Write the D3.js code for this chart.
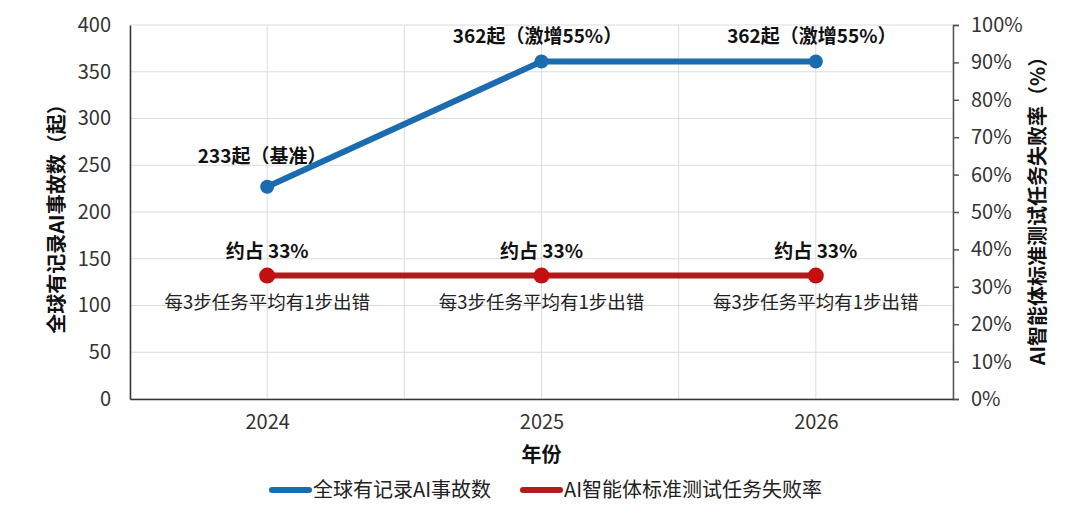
<!DOCTYPE html>
<html>
<head>
<meta charset="utf-8">
<script src="https://cdn.jsdelivr.net/npm/d3@7"></script>
<style>
  body { margin: 0; background: #fff; }
  svg text { font-family: "Noto Sans CJK SC", "Noto Sans", sans-serif; fill: #222; }
</style>
</head>
<body>
<svg id="chart" width="1080" height="524"></svg>
<script>
// data
let years = [2024, 2025, 2026];
let incidents = [227, 361, 361];
let incidentLabels = ["233起（基准）", "362起（激增55%）", "362起（激增55%）"];
let failRate = [33, 33, 33];
let failLabels = ["约占 33%", "约占 33%", "约占 33%"];
let failNotes = ["每3步任务平均有1步出错", "每3步任务平均有1步出错", "每3步任务平均有1步出错"];
let leftTicks = [0, 50, 100, 150, 200, 250, 300, 350, 400];
let rightTicks = [0, 10, 20, 30, 40, 50, 60, 70, 80, 90, 100];
let gridYears = [2023.5, 2024, 2024.5, 2025, 2025.5, 2026, 2026.5];

let blue = '#1b6bb0';
let red = '#b01b1b';

let svg = d3.select('#chart');

let plotL = 130, plotR = 953, plotT = 25, plotB = 399;

let x = d3.scaleLinear().domain([2023.5, 2026.5]).range([plotL, plotR]);
let yL = d3.scaleLinear().domain([0, 400]).range([plotB, plotT]);
let yR = d3.scaleLinear().domain([0, 100]).range([plotB, plotT]);

// grid
svg.append('g')
  .selectAll('line.hgrid')
  .data(leftTicks)
  .enter()
  .append('line')
  .attr('class', 'hgrid')
  .attr('x1', plotL).attr('x2', plotR)
  .attr('y1', d => yL(d)).attr('y2', d => yL(d))
  .style('stroke', '#dcdcdc')
  .style('stroke-width', '1px');

svg.append('g')
  .selectAll('line.vgrid')
  .data(gridYears)
  .enter()
  .append('line')
  .attr('class', 'vgrid')
  .attr('x1', d => x(d)).attr('x2', d => x(d))
  .attr('y1', plotT).attr('y2', plotB)
  .style('stroke', '#dcdcdc')
  .style('stroke-width', '1px');

// left axis
let leftAxis = svg.append('g')
  .attr('transform', `translate(${plotL},0)`)
  .call(d3.axisLeft(yL).tickValues(leftTicks).tickSize(0).tickPadding(19));
leftAxis.select('.domain').style('stroke', '#333').style('stroke-width', '1.5px');
leftAxis.selectAll('text').style('font-size', '20px').style('fill', '#333');

// right axis
let rightAxis = svg.append('g')
  .attr('transform', `translate(${plotR},0)`)
  .call(d3.axisRight(yR).tickValues(rightTicks).tickSize(6).tickSizeOuter(6).tickPadding(12).tickFormat(d => d + '%'));
rightAxis.selectAll('.domain').style('stroke', '#555').style('stroke-width', '1.5px');
rightAxis.selectAll('line').style('stroke', '#555').style('stroke-width', '1.5px');
rightAxis.selectAll('text').style('font-size', '20px').style('fill', '#333');

// bottom axis
let bottomAxis = svg.append('g')
  .attr('transform', `translate(0,${plotB})`)
  .call(d3.axisBottom(x).tickValues(years).tickSize(0).tickPadding(16).tickFormat(d3.format('d')));
bottomAxis.select('.domain').style('stroke', '#333').style('stroke-width', '1.5px');
bottomAxis.selectAll('text').style('font-size', '20px').style('fill', '#333');

// axis titles
svg.append('text')
  .attr('transform', 'translate(64,214) rotate(-90)')
  .attr('text-anchor', 'middle')
  .style('font-size', '20px')
  .style('font-weight', 'bold')
  .style('fill', '#111')
  .text('全球有记录AI事故数（起）');

svg.append('text')
  .attr('transform', 'translate(1045,206) rotate(-90)')
  .attr('text-anchor', 'middle')
  .style('font-size', '20px')
  .style('font-weight', 'bold')
  .style('fill', '#111')
  .text('AI智能体标准测试任务失败率（%）');

svg.append('text')
  .attr('x', x(2025)).attr('y', 462)
  .attr('text-anchor', 'middle')
  .style('font-size', '20px')
  .style('font-weight', 'bold')
  .style('fill', '#111')
  .text('年份');

// red series
let redLine = d3.line().x((d, i) => x(years[i])).y(d => yR(d));
svg.append('path')
  .datum(failRate)
  .attr('d', redLine)
  .style('fill', 'none')
  .style('stroke', red)
  .style('stroke-width', '6px');

svg.selectAll('circle.red')
  .data(failRate)
  .enter()
  .append('circle')
  .attr('class', 'red')
  .attr('cx', (d, i) => x(years[i]))
  .attr('cy', d => yR(d))
  .attr('r', 8)
  .style('fill', '#c40f0f');

svg.selectAll('text.failLab')
  .data(failRate)
  .enter()
  .append('text')
  .attr('class', 'failLab')
  .attr('x', (d, i) => x(years[i]))
  .attr('y', d => yR(d) - 18)
  .attr('text-anchor', 'middle')
  .style('font-size', '19px')
  .style('font-weight', 'bold')
  .style('fill', '#111')
  .text((d, i) => failLabels[i]);

svg.selectAll('text.failNote')
  .data(failRate)
  .enter()
  .append('text')
  .attr('class', 'failNote')
  .attr('x', (d, i) => x(years[i]))
  .attr('y', d => yR(d) + 33)
  .attr('text-anchor', 'middle')
  .style('font-size', '18.5px')
  .style('fill', '#222')
  .text((d, i) => failNotes[i]);

// blue series
let blueLine = d3.line().x((d, i) => x(years[i])).y(d => yL(d));
svg.append('path')
  .datum(incidents)
  .attr('d', blueLine)
  .style('fill', 'none')
  .style('stroke', blue)
  .style('stroke-width', '6px');

svg.selectAll('circle.blue')
  .data(incidents)
  .enter()
  .append('circle')
  .attr('class', 'blue')
  .attr('cx', (d, i) => x(years[i]))
  .attr('cy', d => yL(d))
  .attr('r', 7)
  .style('fill', blue);

svg.selectAll('text.incLab')
  .data(incidents)
  .enter()
  .append('text')
  .attr('class', 'incLab')
  .attr('x', (d, i) => x(years[i]) - (i == 0 ? 5 : 4))
  .attr('y', (d, i) => yL(d) - (i == 0 ? 24 : 18))
  .attr('text-anchor', 'middle')
  .style('font-size', '19px')
  .style('font-weight', 'bold')
  .style('fill', '#111')
  .text((d, i) => incidentLabels[i]);

// legend
let legendItems = [
  {name: '全球有记录AI事故数', color: blue, x: 272},
  {name: 'AI智能体标准测试任务失败率', color: red, x: 523}
];
let legend = svg.selectAll('g.legend')
  .data(legendItems)
  .enter()
  .append('g')
  .attr('class', 'legend')
  .attr('transform', d => `translate(${d.x},490)`);

legend.append('line')
  .attr('x1', 0).attr('x2', 37)
  .style('stroke', d => d.color)
  .style('stroke-width', '6px')
  .style('stroke-linecap', 'round');

legend.append('text')
  .attr('x', 41).attr('y', 7)
  .style('font-size', '20px')
  .style('fill', '#222')
  .text(d => d.name);
</script>
</body>
</html>
